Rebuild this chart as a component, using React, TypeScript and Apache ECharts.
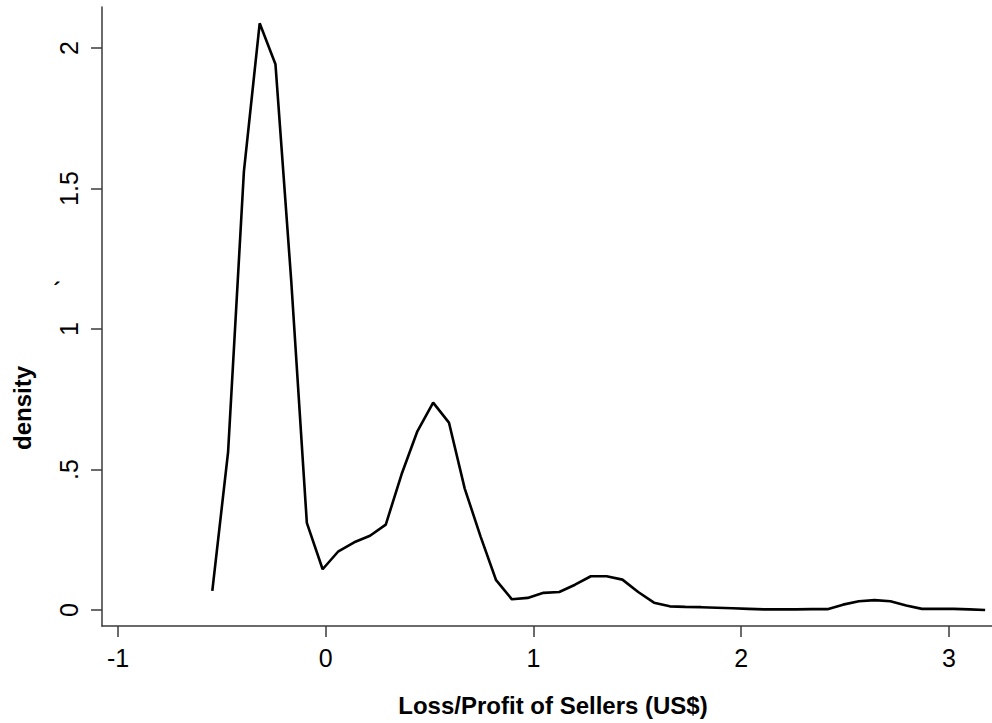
import React, { useEffect, useRef } from "react";
import * as echarts from "echarts";

const xValues = [
  -0.546, -0.47, -0.394, -0.318, -0.242, -0.166, -0.091, -0.015, 0.061, 0.137,
  0.213, 0.289, 0.365, 0.441, 0.517, 0.593, 0.669, 0.745, 0.82, 0.896,
  0.972, 1.048, 1.124, 1.2, 1.276, 1.352, 1.428, 1.504, 1.58, 1.656,
  1.731, 1.807, 1.883, 1.959, 2.035, 2.111, 2.187, 2.263, 2.339, 2.415,
  2.49, 2.566, 2.642, 2.718, 2.794, 2.87, 2.946, 3.022, 3.098, 3.174,
];

const densityValues = [
  0.068, 0.563, 1.56, 2.088, 1.942, 1.17, 0.31, 0.145, 0.209, 0.241,
  0.264, 0.304, 0.483, 0.636, 0.738, 0.667, 0.432, 0.262, 0.106, 0.038,
  0.043, 0.061, 0.064, 0.09, 0.12, 0.12, 0.108, 0.064, 0.026, 0.013,
  0.011, 0.01, 0.008, 0.006, 0.004, 0.002, 0.002, 0.002, 0.003, 0.003,
  0.019, 0.031, 0.035, 0.031, 0.016, 0.004, 0.004, 0.004, 0.002, 0.0,
];

const xTickValues = [-1, 0, 1, 2, 3];
const xTickLabels = ["-1", "0", "1", "2", "3"];
const yTickValues = [0, 0.5, 1, 1.5, 2];
const yTickLabels = ["0", ".5", "1", "1.5", "2"];

const xTitle = "Loss/Profit of Sellers (US$)";
const yTitle = "density";

const FONT = "'Liberation Sans', Arial, Helvetica, sans-serif";
const AXIS_COLOR = "#3a3a3a";

export default function App() {
  const ref = useRef<HTMLDivElement>(null);

  useEffect(() => {
    if (!ref.current) return;
    const chart = echarts.init(ref.current, undefined, { renderer: "svg" });
    const data = xValues.map((x, i) => [x, densityValues[i]]);

    chart.setOption({
      animation: false,
      backgroundColor: "#ffffff",
      grid: {
        left: 102,
        right: 0,
        top: 7,
        bottom: 97,
        containLabel: false,
        outerBoundsMode: "none",
      },
      xAxis: {
        type: "value",
        min: -1.077,
        max: 3.207,
        splitLine: { show: false },
        axisLine: { show: true, onZero: false, lineStyle: { color: AXIS_COLOR, width: 1.5 } },
        axisTick: {
          show: true,
          length: 11,
          customValues: xTickValues,
          lineStyle: { color: AXIS_COLOR, width: 1.5 },
        },
        axisLabel: {
          show: true,
          customValues: xTickValues,
          margin: 19,
          fontSize: 25,
          fontFamily: FONT,
          color: "#000",
          formatter: (v: number) => {
            const idx = xTickValues.findIndex((t) => Math.abs(t - v) < 1e-6);
            return idx >= 0 ? xTickLabels[idx] : "";
          },
        },
      },
      yAxis: {
        type: "value",
        min: -0.057,
        max: 2.146,
        splitLine: { show: false },
        axisLine: { show: true, onZero: false, lineStyle: { color: AXIS_COLOR, width: 1.5 } },
        axisTick: {
          show: true,
          length: 11,
          customValues: yTickValues,
          lineStyle: { color: AXIS_COLOR, width: 1.5 },
        },
        axisLabel: {
          show: true,
          customValues: yTickValues,
          rotate: 90,
          margin: 21,
          fontSize: 25,
          fontFamily: FONT,
          color: "#000",
          formatter: (v: number) => {
            const idx = yTickValues.findIndex((t) => Math.abs(t - v) < 1e-6);
            return idx >= 0 ? yTickLabels[idx] : "";
          },
        },
      },
      graphic: [
        {
          type: "text",
          x: 553,
          y: 705,
          style: {
            text: xTitle,
            fontFamily: FONT,
            fontWeight: "bold",
            fontSize: 24,
            fill: "#000",
            align: "center",
            verticalAlign: "middle",
          },
        },
        {
          type: "text",
          x: 22,
          y: 408,
          rotation: Math.PI / 2,
          style: {
            text: yTitle,
            fontFamily: FONT,
            fontWeight: "bold",
            fontSize: 24,
            fill: "#000",
            align: "center",
            verticalAlign: "middle",
          },
        },
        {
          type: "text",
          x: 57,
          y: 290,
          style: {
            text: "´",
            fontFamily: FONT,
            fontWeight: "bold",
            fontSize: 22,
            fill: "#000",
            align: "center",
            verticalAlign: "middle",
          },
        },
      ],
      series: [
        {
          type: "line",
          data,
          showSymbol: false,
          symbol: "none",
          lineStyle: { color: "#000", width: 2.6 },
          silent: true,
        },
      ],
    });

    return () => chart.dispose();
  }, []);

  return (
    <div
      ref={ref}
      style={{ position: "fixed", left: 0, top: 0, width: 992, height: 723 }}
    />
  );
}
